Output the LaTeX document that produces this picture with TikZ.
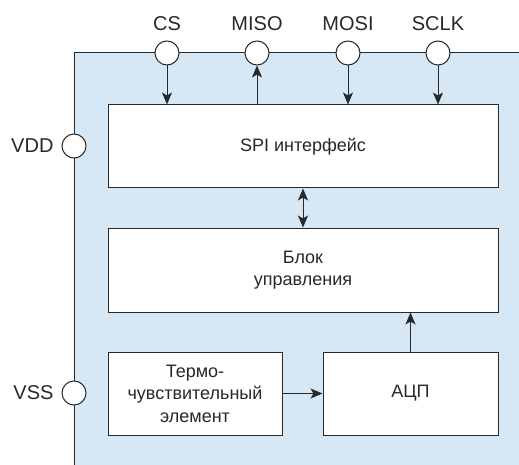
\documentclass[tikz,border=0pt]{standalone}
\usepackage{fontspec}
\setmainfont{Liberation Sans}
\usepackage{tikz}
\usetikzlibrary{positioning, arrows.meta}
\definecolor{chipblue}{RGB}{214,232,245}
\definecolor{inkgray}{RGB}{40,40,40}

\begin{document}
\begin{tikzpicture}[
  x=1pt, y=-1pt,
  block/.style={draw=inkgray, fill=white, line width=1pt, align=center,
                text=inkgray, font=\fontsize{18}{22.5}\selectfont},
  pin/.style={draw=inkgray, fill=white, circle, line width=1pt,
              minimum size=24pt, inner sep=0pt},
  pinlabel/.style={text=inkgray, font=\fontsize{20}{24}\selectfont},
  arrow/.style={-{Stealth[length=12pt,width=10pt,inset=3pt]}, line width=1pt, color=inkgray},
  biarrow/.style={{Stealth[length=12pt,width=10pt,inset=3pt]}-{Stealth[length=12pt,width=10pt,inset=3pt]},
                  line width=1pt, color=inkgray}
]
\useasboundingbox (0,0) rectangle (519,465);
% chip body
\fill[chipblue] (74,53) rectangle (519,465);
\draw[inkgray, line width=1pt] (74,465) -- (74,53) -- (519,53);

% blocks
\node[block, minimum width=390pt, minimum height=83pt] (spi) at (303,146.5) {SPI интерфейс};
\node[block, minimum width=390pt, minimum height=84pt] (ctrl) at (303,270) {Блок\\управления};
\node[block, minimum width=174pt, minimum height=83pt] (sensor) at (195,393.5) {Термо-\\чувствительный\\элемент};
\node[block, minimum width=175pt, minimum height=83pt] (adc) at (410.5,393.5) {АЦП};

% pins
\node[pin] (cs)   at (167,53) {};
\node[pin] (miso) at (257,53) {};
\node[pin] (mosi) at (348,53) {};
\node[pin] (sclk) at (438,53) {};
\node[pin] (vdd)  at (74,146) {};
\node[pin] (vss)  at (74,393) {};
\node[pinlabel] (csl)   at (167,24) {CS};
\node[pinlabel] (misol) at (257,24) {MISO};
\node[pinlabel] (mosil) at (348,24) {MOSI};
\node[pinlabel] (sclkl) at (438,24) {SCLK};
\node[pinlabel, anchor=east] (vddl) at (57,146) {VDD};
\node[pinlabel, anchor=east] (vssl) at (57,393) {VSS};

% connections
\draw[arrow] (cs) -- (cs |- spi.north);
\draw[arrow] (miso |- spi.north) -- (miso);
\draw[arrow] (mosi) -- (mosi |- spi.north);
\draw[arrow] (sclk) -- (sclk |- spi.north);
\draw[biarrow] (spi) -- (ctrl);
\draw[arrow] (sensor) -- (adc);
\draw[arrow] (adc) -- (adc |- ctrl.south);
\end{tikzpicture}
\end{document}
